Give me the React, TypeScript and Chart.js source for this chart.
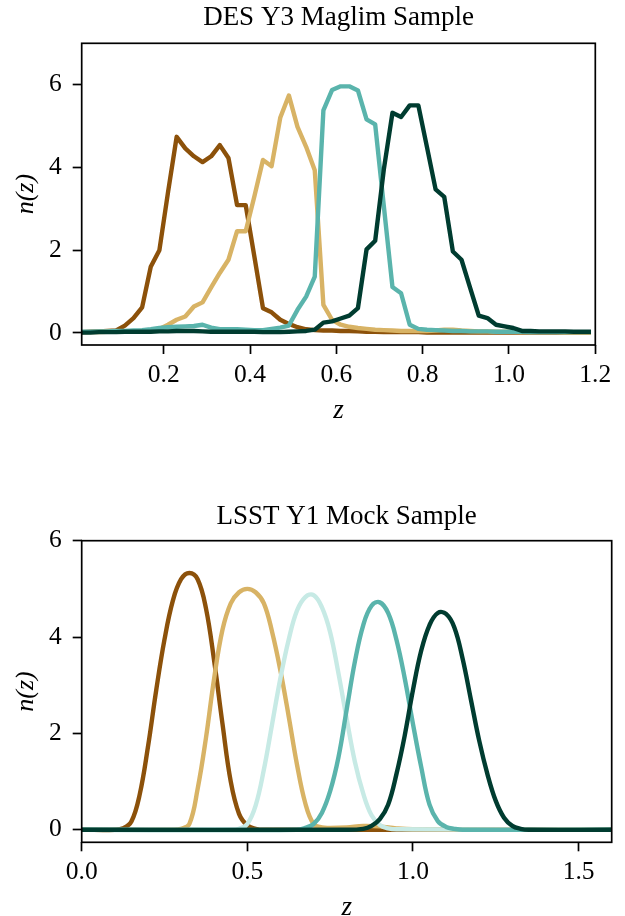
import React, { useEffect, useRef } from "react";
import { Chart, registerables } from "chart.js";

Chart.register(...registerables);

const SERIF = "'Liberation Serif', 'Times New Roman', serif";

// ---------------- DES Y3 MagLim (top panel) ----------------
const DES_TITLE = "DES Y3 Maglim Sample";
const DES_Z = [
  0.01, 0.03, 0.05, 0.07, 0.09, 0.11, 0.13, 0.15, 0.17, 0.19,
  0.21, 0.23, 0.25, 0.27, 0.29, 0.31, 0.33, 0.35, 0.37, 0.39,
  0.41, 0.43, 0.45, 0.47, 0.49, 0.51, 0.53, 0.55, 0.57, 0.59,
  0.61, 0.63, 0.65, 0.67, 0.69, 0.71, 0.73, 0.75, 0.77, 0.79,
  0.81, 0.83, 0.85, 0.87, 0.89, 0.91, 0.93, 0.95, 0.97, 0.99,
  1.01, 1.03, 1.05, 1.07, 1.09, 1.11, 1.13, 1.15, 1.17, 1.19,
];
const DES_BIN1 = [
  0.02, 0.03, 0.04, 0.05, 0.06, 0.18, 0.36, 0.62, 1.6, 2.0,
  3.4, 4.74, 4.46, 4.27, 4.13, 4.27, 4.54, 4.23, 3.09, 3.09,
  1.85, 0.6, 0.5, 0.32, 0.22, 0.14, 0.09, 0.07, 0.06, 0.06,
  0.05, 0.05, 0.04, 0.03, 0.03, 0.02, 0.02, 0.02, 0.02, 0.02,
  0.01, 0.01, 0.01, 0.01, 0.01, 0.01, 0.01, 0.01, 0.01, 0.01,
  0.01, 0.01, 0.01, 0.01, 0.01, 0.01, 0.01, 0.01, 0.01, 0.01,
];
const DES_BIN2 = [
  0.02, 0.02, 0.02, 0.03, 0.03, 0.03, 0.04, 0.05, 0.06, 0.1,
  0.2, 0.32, 0.4, 0.64, 0.74, 1.1, 1.45, 1.77, 2.46, 2.46,
  3.3, 4.18, 4.03, 5.2, 5.74, 4.98, 4.5, 3.93, 0.68, 0.32,
  0.2, 0.15, 0.12, 0.1, 0.08, 0.07, 0.06, 0.05, 0.05, 0.05,
  0.05, 0.06, 0.08, 0.08, 0.06, 0.05, 0.04, 0.04, 0.03, 0.03,
  0.03, 0.02, 0.02, 0.02, 0.02, 0.02, 0.01, 0.01, 0.01, 0.01,
];
const DES_BIN3 = [
  0.03, 0.03, 0.04, 0.04, 0.05, 0.05, 0.06, 0.07, 0.09, 0.12,
  0.14, 0.15, 0.16, 0.17, 0.2, 0.13, 0.09, 0.09, 0.09, 0.08,
  0.07, 0.07, 0.1, 0.13, 0.18, 0.56, 0.88, 1.36, 5.38, 5.87,
  5.96, 5.96, 5.86, 5.16, 5.04, 3.07, 1.11, 0.96, 0.2, 0.1,
  0.08, 0.07, 0.06, 0.05, 0.05, 0.04, 0.04, 0.04, 0.03, 0.03,
  0.03, 0.03, 0.02, 0.02, 0.02, 0.02, 0.02, 0.02, 0.02, 0.02,
];
const DES_BIN4 = [
  0.01, 0.01, 0.02, 0.02, 0.02, 0.03, 0.03, 0.03, 0.03, 0.04,
  0.04, 0.05, 0.05, 0.05, 0.04, 0.03, 0.03, 0.03, 0.03, 0.03,
  0.03, 0.02, 0.02, 0.02, 0.03, 0.04, 0.05, 0.08, 0.25, 0.28,
  0.35, 0.42, 0.6, 2.02, 2.23, 3.95, 5.32, 5.22, 5.5, 5.5,
  4.49, 3.47, 3.29, 1.97, 1.77, 1.09, 0.42, 0.36, 0.2, 0.16,
  0.12, 0.05, 0.05, 0.04, 0.04, 0.04, 0.04, 0.03, 0.03, 0.03,
];
const DES_X_TICKS = [0.2, 0.4, 0.6, 0.8, 1.0, 1.2];
const DES_X_TICK_LABELS = ["0.2", "0.4", "0.6", "0.8", "1.0", "1.2"];
const DES_Y_TICKS = [0, 2, 4, 6];
const DES_Y_TICK_LABELS = ["0", "2", "4", "6"];

// ---------------- LSST Y1 mock (bottom panel) ----------------
const LSST_TITLE = "LSST Y1 Mock Sample";
const LSST_Z1 = [0, 0.1, 0.125, 0.15, 0.175, 0.2, 0.225, 0.25, 0.275, 0.3, 0.325, 0.35, 0.375, 0.4, 0.425, 0.45, 0.475, 0.5, 0.525, 0.55, 1.6];
const LSST_N1 = [0, 0, 0.03, 0.17, 0.73, 1.72, 2.9, 3.95, 4.75, 5.2, 5.33, 5.2, 4.6, 3.5, 2.2, 1.0, 0.33, 0.09, 0.02, 0, 0];
const LSST_Z2 = [0, 0.275, 0.3, 0.325, 0.35, 0.375, 0.4, 0.425, 0.45, 0.475, 0.5, 0.525, 0.55, 0.575, 0.6, 0.625, 0.65, 0.675, 0.7, 0.725, 0.75, 0.8, 0.85, 0.9, 0.95, 1.0, 1.6];
const LSST_N2 = [0, 0, 0.02, 0.12, 0.85, 1.9, 3.15, 4.15, 4.7, 4.93, 5.0, 4.93, 4.7, 4.1, 3.3, 2.35, 1.35, 0.55, 0.12, 0.05, 0.04, 0.05, 0.08, 0.07, 0.03, 0.01, 0];
const LSST_Z3 = [0, 0.45, 0.475, 0.5, 0.525, 0.55, 0.575, 0.6, 0.625, 0.65, 0.675, 0.7, 0.725, 0.75, 0.775, 0.8, 0.825, 0.85, 0.875, 0.9, 0.925, 0.95, 1.6];
const LSST_N3 = [0, 0, 0.02, 0.12, 0.5, 1.25, 2.2, 3.15, 3.95, 4.55, 4.83, 4.87, 4.62, 4.1, 3.25, 2.3, 1.4, 0.75, 0.3, 0.1, 0.03, 0.01, 0];
const LSST_Z4 = [0, 0.65, 0.675, 0.7, 0.725, 0.75, 0.775, 0.8, 0.825, 0.85, 0.875, 0.9, 0.925, 0.95, 0.975, 1.0, 1.025, 1.05, 1.075, 1.1, 1.125, 1.15, 1.6];
const LSST_N4 = [0, 0, 0.04, 0.12, 0.35, 0.8, 1.5, 2.5, 3.5, 4.25, 4.65, 4.72, 4.5, 3.95, 3.15, 2.2, 1.3, 0.52, 0.18, 0.06, 0.02, 0, 0];
const LSST_Z5 = [0, 0.8, 0.85, 0.875, 0.9, 0.925, 0.95, 0.975, 1.0, 1.025, 1.05, 1.075, 1.1, 1.125, 1.15, 1.175, 1.2, 1.225, 1.25, 1.275, 1.3, 1.325, 1.35, 1.6];
const LSST_N5 = [0, 0, 0.02, 0.08, 0.22, 0.52, 1.15, 1.95, 2.9, 3.72, 4.25, 4.5, 4.48, 4.2, 3.55, 2.7, 1.85, 1.15, 0.6, 0.25, 0.08, 0.02, 0, 0];
const LSST_X_TICKS = [0, 0.5, 1.0, 1.5];
const LSST_X_TICK_LABELS = ["0.0", "0.5", "1.0", "1.5"];
const LSST_Y_TICKS = [0, 2, 4, 6];
const LSST_Y_TICK_LABELS = ["0", "2", "4", "6"];

const C_BROWN = "#8c510a";
const C_TAN = "#d8b365";
const C_LIGHT = "#c7eae5";
const C_TEAL = "#5ab4ac";
const C_DARK = "#003c30";

const pts = (xs: number[], ys: number[]) => xs.map((x, i) => ({ x, y: ys[i] }));

const framePlugin = {
  id: "frame",
  afterDatasetsDraw(chart: any) {
    const { ctx, chartArea: a } = chart;
    ctx.save();
    ctx.strokeStyle = "#000";
    ctx.lineWidth = 1.7;
    ctx.strokeRect(a.left, a.top, a.right - a.left, a.bottom - a.top);
    ctx.restore();
  },
};

type Panel = {
  title: string;
  series: { z: number[]; n: number[]; color: string; smooth: boolean }[];
  xMin: number; xMax: number; yMin: number; yMax: number;
  xTicks: number[]; xTickLabels: string[];
  yTicks: number[]; yTickLabels: string[];
  height: number;
  left: number; right: number; top: number; bottom: number;
  titlePadTop: number;
  xTitlePadBottom: number;
};

function buildConfig(p: Panel): any {
  const titleFont = 27;
  const titleLH = titleFont * 1.2;
  const count = p.series.length;
  return {
    type: "line",
    data: {
      datasets: p.series.map((s, i) => ({
        data: pts(s.z, s.n),
        order: count - i,
        borderColor: s.color,
        backgroundColor: s.color,
        borderWidth: 4.4,
        pointRadius: 0,
        fill: false,
        tension: s.smooth ? 0.4 : 0,
        cubicInterpolationMode: "default",
        borderJoinStyle: "round",
        borderCapStyle: "butt",
      })),
    },
    options: {
      responsive: false,
      animation: false,
      devicePixelRatio: 1,
      layout: { padding: { left: 0, right: 625 - p.right, top: 0, bottom: 0 } },
      plugins: {
        legend: { display: false },
        tooltip: { enabled: false },
        title: {
          display: true,
          text: p.title,
          fullSize: false,
          color: "#000",
          font: { family: SERIF, size: titleFont, weight: "normal", lineHeight: 1.2 },
          padding: { top: p.titlePadTop, bottom: p.top - p.titlePadTop - titleLH },
        },
      },
      scales: {
        x: {
          type: "linear",
          min: p.xMin,
          max: p.xMax,
          afterBuildTicks: (s: any) => { s.ticks = p.xTicks.map((v) => ({ value: v })); },
          afterFit: (s: any) => { s.height = p.height - p.bottom; },
          ticks: {
            autoSkip: false,
            maxRotation: 0,
            padding: 5.5,
            color: "#000",
            font: { family: SERIF, size: 25.5 },
            callback: (_v: any, i: number) => p.xTickLabels[i],
          },
          grid: { drawOnChartArea: false, drawTicks: true, tickLength: 9, tickWidth: 1.7, tickColor: "#000" },
          border: { display: false },
          title: {
            display: true,
            text: "z",
            color: "#000",
            font: { family: SERIF, size: 27, style: "italic", lineHeight: 1.2 },
            padding: { top: 0, bottom: p.xTitlePadBottom },
          },
        },
        y: {
          type: "linear",
          min: p.yMin,
          max: p.yMax,
          afterBuildTicks: (s: any) => { s.ticks = p.yTicks.map((v) => ({ value: v })); },
          afterFit: (s: any) => { s.width = p.left; },
          ticks: {
            autoSkip: false,
            padding: 11,
            color: "#000",
            font: { family: SERIF, size: 25.5 },
            callback: (_v: any, i: number) => p.yTickLabels[i],
          },
          grid: { drawOnChartArea: false, drawTicks: true, tickLength: 9, tickWidth: 1.7, tickColor: "#000" },
          border: { display: false },
          title: {
            display: true,
            text: "n(z)",
            color: "#000",
            font: { family: SERIF, size: 26, style: "italic", lineHeight: 1.2 },
            padding: { top: 11, bottom: 0 },
          },
        },
      },
    },
    plugins: [framePlugin],
  };
}

const TOP_PANEL: Panel = {
  title: DES_TITLE,
  series: [
    { z: DES_Z, n: DES_BIN1, color: C_BROWN, smooth: false },
    { z: DES_Z, n: DES_BIN2, color: C_TAN, smooth: false },
    { z: DES_Z, n: DES_BIN3, color: C_TEAL, smooth: false },
    { z: DES_Z, n: DES_BIN4, color: C_DARK, smooth: false },
  ],
  xMin: 0.01, xMax: 1.2, yMin: -0.29, yMax: 7.0,
  xTicks: DES_X_TICKS, xTickLabels: DES_X_TICK_LABELS,
  yTicks: DES_Y_TICKS, yTickLabels: DES_Y_TICK_LABELS,
  height: 460,
  left: 81.7, right: 595.3, top: 43.3, bottom: 345,
  titlePadTop: 2,
  xTitlePadBottom: 33,
};

const BOTTOM_PANEL: Panel = {
  title: LSST_TITLE,
  series: [
    { z: LSST_Z1, n: LSST_N1, color: C_BROWN, smooth: true },
    { z: LSST_Z2, n: LSST_N2, color: C_TAN, smooth: true },
    { z: LSST_Z3, n: LSST_N3, color: C_LIGHT, smooth: true },
    { z: LSST_Z4, n: LSST_N4, color: C_TEAL, smooth: true },
    { z: LSST_Z5, n: LSST_N5, color: C_DARK, smooth: true },
  ],
  xMin: 0, xMax: 1.6, yMin: -0.26, yMax: 6.0,
  xTicks: LSST_X_TICKS, xTickLabels: LSST_X_TICK_LABELS,
  yTicks: LSST_Y_TICKS, yTickLabels: LSST_Y_TICK_LABELS,
  height: 480,
  left: 81.7, right: 611.7, top: 82.7, bottom: 384.3,
  titlePadTop: 42.7,
  xTitlePadBottom: 14,
};

function PanelCanvas({ panel, top }: { panel: Panel; top: number }) {
  const ref = useRef<HTMLCanvasElement | null>(null);
  useEffect(() => {
    if (!ref.current) return;
    const chart = new Chart(ref.current, buildConfig(panel));
    return () => chart.destroy();
  }, [panel]);
  return (
    <canvas
      ref={ref}
      width={625}
      height={panel.height}
      style={{ position: "absolute", left: 0, top, width: 625, height: panel.height, display: "block" }}
    />
  );
}

export default function App() {
  return (
    <div
      style={{
        position: "absolute",
        left: 0,
        top: 0,
        width: 625,
        height: 916,
        overflow: "hidden",
        background: "#fff",
      }}
    >
      <PanelCanvas panel={TOP_PANEL} top={0} />
      <PanelCanvas panel={BOTTOM_PANEL} top={458} />
    </div>
  );
}
